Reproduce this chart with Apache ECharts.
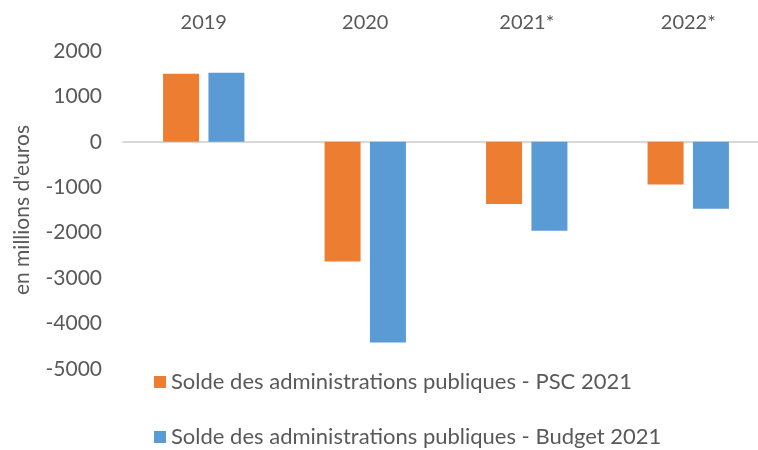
<!DOCTYPE html>
<html>
<head>
<meta charset="utf-8">
<script src="https://cdn.jsdelivr.net/npm/echarts@6/dist/echarts.min.js"></script>
<style>
  html, body { margin: 0; padding: 0; background: #fff; overflow: hidden; }
  /* le graphique d'origine est coupé à droite : zone plus large que la fenêtre */
  #chart { width: 769px; height: 450px; }
</style>
</head>
<body>
<div id="chart"></div>
<script>
  // catégories et valeurs (millions d'euros)
  var years = ['2019', '2020', '2021*', '2022*'];
  var soldePSC = [1500, -2635, -1370, -940];
  var soldeBudget = [1520, -4415, -1955, -1470];
  var seriesNames = [
    'Solde des administrations publiques - PSC 2021',
    'Solde des administrations publiques - Budget 2021'
  ];

  var textColor = '#595959';
  var fontFam = 'Lato, "Open Sans", sans-serif';

  function legendItem(name, top) {
    return {
      orient: 'vertical',
      left: 149,
      top: top,
      itemWidth: 12,
      itemHeight: 12,
      icon: 'rect',
      textStyle: {fontSize: 22, color: textColor, fontFamily: fontFam},
      data: [name]
    };
  }

  var chart = echarts.init(document.getElementById('chart'));
  var option = {
    animation: false,
    textStyle: {fontFamily: fontFam},
    color: ['#ED7D31', '#5B9BD5'],
    grid: {left: 123, right: 0, top: 51, bottom: 81},
    legend: [
      legendItem(seriesNames[0], 366),
      legendItem(seriesNames[1], 421)
    ],
    xAxis: [
      {
        type: 'category',
        position: 'top',
        data: years,
        axisLine: {show: false, onZero: false},
        axisTick: {show: false},
        axisLabel: {fontSize: 20, color: textColor, margin: 18}
      },
      {
        type: 'category',
        position: 'bottom',
        data: years,
        axisLine: {show: true, onZero: true, lineStyle: {color: '#d9d9d9', width: 2}},
        axisTick: {show: false},
        axisLabel: {show: false}
      }
    ],
    yAxis: {
      type: 'value',
      min: -5000,
      max: 2000,
      interval: 1000,
      name: "en millions d'euros",
      nameLocation: 'middle',
      nameGap: 90,
      nameTextStyle: {fontSize: 21, color: textColor},
      splitLine: {show: false},
      axisLine: {show: false},
      axisTick: {show: false},
      axisLabel: {
        fontSize: 21,
        color: textColor,
        margin: 21,
        formatter: function (v) { return String(v); }
      }
    },
    series: [
      {
        name: seriesNames[0],
        type: 'bar',
        xAxisIndex: 0,
        barWidth: 36,
        barGap: '26%',
        data: soldePSC
      },
      {
        name: seriesNames[1],
        type: 'bar',
        xAxisIndex: 0,
        barWidth: 36,
        barGap: '26%',
        data: soldeBudget
      }
    ]
  };
  chart.setOption(option);
</script>
</body>
</html>
